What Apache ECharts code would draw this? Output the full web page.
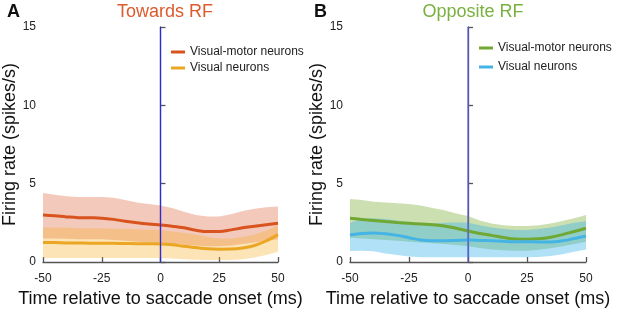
<!DOCTYPE html>
<html><head><meta charset="utf-8">
<script src="https://cdn.jsdelivr.net/npm/echarts@6/dist/echarts.min.js"></script>
<style>html,body{margin:0;padding:0;background:#fff}#c{width:617px;height:311px}</style>
</head><body><div id="c"></div>
<script>
// time points (ms)
const timeMs = [-50,-45,-40,-35,-30,-25,-20,-15,-10,-5,0,5,10,15,20,25,30,35,40,45,50];
const xTicks = [-50,-25,0,25,50];
const yTicks = [0,5,10,15];
const vLineX = 0;

// Panel A: Towards RF
const aVMMean  = [3.00,2.95,2.88,2.83,2.82,2.80,2.72,2.60,2.50,2.42,2.36,2.28,2.18,2.03,1.94,1.95,2.05,2.18,2.28,2.38,2.48];
const aVMUpper = [4.40,4.30,4.20,4.15,4.15,4.15,4.10,3.95,3.80,3.70,3.60,3.45,3.20,3.00,2.90,2.90,3.05,3.25,3.40,3.50,3.55];
const aVMLower = [1.50,1.50,1.48,1.45,1.45,1.45,1.40,1.35,1.30,1.25,1.20,1.15,1.10,1.05,1.00,1.00,1.05,1.15,1.25,1.35,1.45];
const aVMean   = [1.25,1.24,1.22,1.21,1.20,1.20,1.19,1.18,1.17,1.16,1.15,1.10,1.00,0.92,0.85,0.82,0.83,0.90,1.05,1.35,1.75];
const aVUpper  = [2.20,2.20,2.18,2.16,2.15,2.15,2.13,2.10,2.08,2.06,2.05,1.95,1.85,1.75,1.60,1.50,1.50,1.60,1.75,2.00,2.35];
const aVLower  = [0.25,0.25,0.25,0.25,0.25,0.25,0.25,0.25,0.25,0.25,0.25,0.22,0.18,0.15,0.12,0.12,0.13,0.18,0.28,0.45,0.65];

// Panel B: Opposite RF
const bVMMean  = [2.79,2.72,2.65,2.58,2.52,2.47,2.42,2.37,2.30,2.15,1.98,1.82,1.70,1.57,1.47,1.45,1.48,1.58,1.75,1.95,2.15];
const bVMUpper = [4.02,3.95,3.85,3.80,3.75,3.70,3.60,3.45,3.30,3.10,2.93,2.65,2.45,2.35,2.30,2.30,2.35,2.45,2.62,2.80,3.00];
const bVMLower = [1.55,1.50,1.45,1.40,1.35,1.30,1.25,1.20,1.15,1.08,1.00,0.90,0.80,0.75,0.72,0.72,0.78,0.88,1.00,1.15,1.30];
const bVMean   = [1.72,1.82,1.85,1.80,1.70,1.55,1.40,1.35,1.35,1.38,1.40,1.38,1.35,1.32,1.30,1.30,1.28,1.28,1.35,1.50,1.66];
const bVUpper  = [2.50,2.75,2.80,2.75,2.65,2.55,2.45,2.45,2.50,2.52,2.50,2.35,2.20,2.10,2.05,2.05,2.10,2.20,2.35,2.50,2.60];
const bVLower  = [0.70,0.72,0.68,0.55,0.45,0.35,0.30,0.30,0.30,0.30,0.30,0.30,0.30,0.30,0.30,0.30,0.32,0.38,0.50,0.65,0.80];

const legendNames = ['Visual-motor neurons','Visual neurons'];
const panelTitles = ['Towards RF','Opposite RF'];
const panelLetters = ['A','B'];

const FONT = '"Liberation Sans", Arial, sans-serif';
const pair = (ys) => timeMs.map((t,i)=>[t, ys[i]]);

function band(gridIdx, upper, lower, color, z) {
  return {
    type:'custom', xAxisIndex:gridIdx, yAxisIndex:gridIdx, z:z, silent:true,
    data:[[timeMs[0], upper[0]]],
    renderItem:(params, api) => {
      const pts = [];
      for (let i=0;i<timeMs.length;i++) pts.push(api.coord([timeMs[i], upper[i]]));
      for (let i=timeMs.length-1;i>=0;i--) pts.push(api.coord([timeMs[i], lower[i]]));
      return {type:'polygon', shape:{points:pts}, style:{fill:color}};
    }
  };
}
function meanLine(gridIdx, name, ys, color) {
  return {type:'line', name:name, xAxisIndex:gridIdx, yAxisIndex:gridIdx, data:pair(ys), smooth:0.4,
    showSymbol:false, symbol:'none', lineStyle:{color:color, width:3}, itemStyle:{color:color}, z:5, silent:true};
}
function vline(gridIdx, color) {
  return {type:'line', xAxisIndex:gridIdx, yAxisIndex:gridIdx, data:[[vLineX,yTicks[0]],[vLineX,yTicks[yTicks.length-1]]],
    showSymbol:false, symbol:'none', lineStyle:{color:color, width:1.2}, z:6, silent:true};
}
function xAx(gridIdx) {
  return {type:'value', gridIndex:gridIdx, min:xTicks[0], max:xTicks[xTicks.length-1], interval:25,
    axisLine:{lineStyle:{color:'#555', width:1.3}}, axisTick:{inside:true, length:5, lineStyle:{color:'#555', width:1.3}},
    axisLabel:{color:'#222', fontSize:12, fontFamily:FONT, margin:11}, splitLine:{show:false},
    name:'Time relative to saccade onset (ms)', nameLocation:'middle', nameGap:27,
    nameTextStyle:{color:'#111', fontSize:18, fontFamily:FONT}};
}
function yAx(gridIdx) {
  return {type:'value', gridIndex:gridIdx, min:yTicks[0], max:yTicks[yTicks.length-1], interval:5,
    axisLine:{show:true, lineStyle:{color:'#555', width:1.3}}, axisTick:{show:true, inside:true, length:5, lineStyle:{color:'#555', width:1.3}},
    axisLabel:{color:'#222', fontSize:12, fontFamily:FONT, margin:7}, splitLine:{show:false},
    name:'Firing rate (spikes/s)', nameLocation:'middle', nameGap:22,
    nameTextStyle:{color:'#111', fontSize:18, fontFamily:FONT}};
}

const chart = echarts.init(document.getElementById('c'), null, {renderer:'canvas'});
chart.setOption({
  animation:false,
  backgroundColor:'#fff',
  title:[
    {text:panelTitles[0], left:160, top:-2, textAlign:'center', textStyle:{color:'#DD5A2C', fontSize:18, fontWeight:'normal', fontFamily:FONT}},
    {text:panelTitles[1], left:468, top:-2, textAlign:'center', textStyle:{color:'#7AB13E', fontSize:18, fontWeight:'normal', fontFamily:FONT}},
    {text:panelLetters[0], left:2, top:-2, textStyle:{color:'#111', fontSize:18, fontWeight:'bold', fontFamily:FONT}},
    {text:panelLetters[1], left:309, top:-2, textStyle:{color:'#111', fontSize:18, fontWeight:'bold', fontFamily:FONT}}
  ],
  legend:[
    {left:166, top:41, orient:'vertical', itemGap:4, itemWidth:14, itemHeight:3, icon:'rect',
     textStyle:{color:'#222', fontSize:12, fontFamily:FONT}, selectedMode:false,
     data:[{name:legendNames[0], itemStyle:{color:'#D9531E'}},{name:legendNames[1], itemStyle:{color:'#EBA624'}}]},
    {left:474, top:37, orient:'vertical', itemGap:7, itemWidth:14, itemHeight:3, icon:'rect',
     textStyle:{color:'#222', fontSize:12, fontFamily:FONT}, selectedMode:false,
     data:[{name:legendNames[0], itemStyle:{color:'#6FA832'}},{name:legendNames[1], itemStyle:{color:'#45B4E4'}}]}
  ],
  grid:[
    {left:43, top:27, width:235, height:235, outerBoundsMode:'none', containLabel:false},
    {left:350, top:27, width:236, height:235, outerBoundsMode:'none', containLabel:false}
  ],
  xAxis:[xAx(0), xAx(1)],
  yAxis:[yAx(0), yAx(1)],
  series:[
    band(0, aVMUpper, aVMLower, 'rgba(220,90,50,0.33)', 1),
    band(0, aVUpper, aVLower, 'rgba(245,170,30,0.32)', 2),
    meanLine(0, legendNames[0], aVMMean, '#D9531E'),
    meanLine(0, legendNames[1], aVMean, '#EBA624'),
    vline(0, '#2a2ae0'),
    band(1, bVMUpper, bVMLower, 'rgba(110,165,40,0.36)', 1),
    band(1, bVUpper, bVLower, 'rgba(60,180,235,0.40)', 2),
    meanLine(1, legendNames[0], bVMMean, '#6FA832'),
    meanLine(1, legendNames[1], bVMean, '#45B4E4'),
    vline(1, '#5a5ae0')
  ]
});
</script></body></html>
